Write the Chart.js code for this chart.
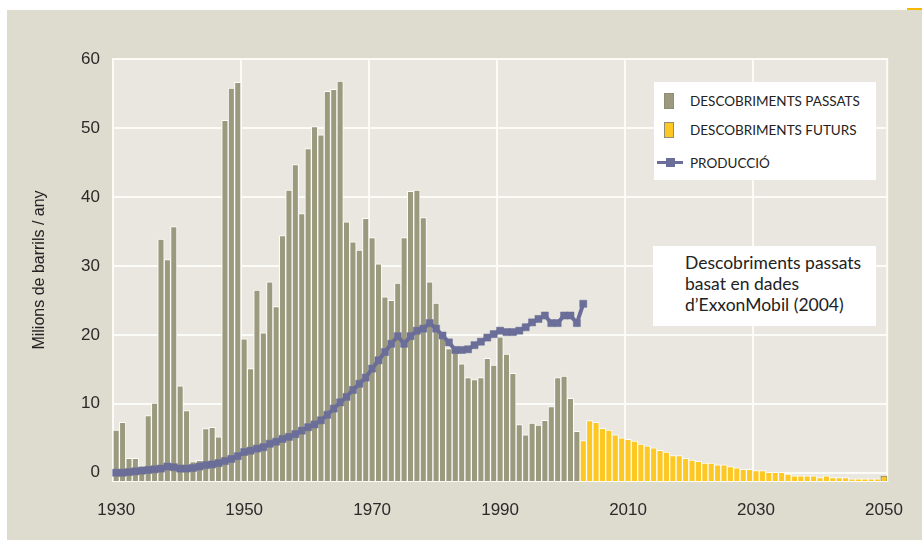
<!DOCTYPE html>
<html>
<head>
<meta charset="utf-8">
<style>
  body { margin: 0; background: #fff; width: 922px; height: 540px; position: relative; overflow: hidden;
         font-family: "Liberation Sans Narrow", Lato, sans-serif; }
  #panel { position: absolute; left: 7px; top: 10px; right: 0; bottom: 0; background: #dedccf; }
  #accent { position: absolute; left: 907px; top: 8px; width: 15px; height: 2px; background: #f7b900; }
  #chart { position: absolute; left: 0; top: 0; }
  #legend { position: absolute; left: 654px; top: 82px; width: 222px; height: 98px; background: #fff; }
  .item { position: absolute; left: 0; height: 20px; width: 222px; }
  .item span.txt { position: absolute; left: 36px; top: 1px; font-size: 13.5px; color: #222; line-height: 18px; white-space: nowrap; }
  .item i { position: absolute; display: block; }
  #note { position: absolute; left: 653px; top: 246px; width: 223px; height: 80px; background: #fff;
          box-sizing: border-box; padding: 6px 0 0 32px; font-size: 17.5px; line-height: 21px; color: #222; }
</style>
</head>
<body>
<div id="panel"></div>
<div id="accent"></div>
<canvas id="chart" width="922" height="540"></canvas>
<div id="legend"></div>
<div id="note">Descobriments passats<br>basat en dades<br>d’ExxonMobil (2004)</div>
<script src="https://cdn.jsdelivr.net/npm/chart.js@4.4.1/dist/chart.umd.min.js"></script>
<script>
// categories: one slot per year
const firstYear = 1930;
const lastYear = 2050;
const years = [];
for (let y = firstYear; y <= lastYear; y++) years.push(y);

const xTickYears = [1930, 1950, 1970, 1990, 2010, 2030, 2050];
const yTicks = [0, 10, 20, 30, 40, 50, 60];

// past discoveries, 1930 - 2002
const pastDiscoveries = [
  6.2, 7.3, 2.1, 2.1, 1.0, 8.3, 10.1, 33.9, 30.9, 35.7,
  12.6, 9.0, 1.6, 1.8, 6.4, 6.6, 5.2, 51.1, 55.8, 56.6,
  19.4, 15.1, 26.5, 20.3, 27.7, 24.1, 34.4, 41.0, 44.7, 37.6,
  47.0, 50.2, 49.0, 55.3, 55.6, 56.8, 36.4, 33.5, 32.3, 36.9,
  34.1, 30.3, 25.5, 25.0, 27.5, 34.1, 40.8, 41.0, 37.0, 27.7,
  24.6, 19.5, 18.0, 17.5, 15.8, 13.8, 13.5, 13.8, 16.6, 15.6,
  19.7, 17.2, 14.4, 7.0, 5.5, 7.2, 6.9, 7.6, 9.6, 13.8,
  14.0, 10.8, 6.0
];
const pastStart = 1930;

// future discoveries, 2003 - 2050
const futureDiscoveries = [
  4.65, 7.55, 7.3, 6.45, 6.2, 5.5, 5.05,
  4.85, 4.6, 4.15, 3.9, 3.6, 3.25, 3.0, 2.5, 2.5, 2.1,
  1.85, 1.65, 1.4, 1.4, 1.15, 1.15, 0.9, 0.7, 0.5, 0.5,
  0.3, 0.3, 0.05, 0.05, 0.05, -0.2, -0.45, -0.45, -0.45, -0.45,
  -0.7, -0.45, -0.7, -0.7, -0.7, -0.9, -0.9, -0.9, -0.9, -0.9,
  -0.5
];
const futureStart = 2003;

// production, 1930 - 2003
const production = [
  0.0, 0.0, 0.1, 0.2, 0.3, 0.4, 0.5, 0.6, 0.9, 0.8,
  0.6, 0.6, 0.7, 0.9, 1.1, 1.2, 1.4, 1.7, 2.0, 2.4,
  3.0, 3.2, 3.5, 3.7, 4.2, 4.5, 4.9, 5.2, 5.6, 6.1,
  6.6, 7.0, 7.6, 8.4, 9.3, 10.2, 11.0, 12.0, 12.9, 13.8,
  15.1, 16.3, 17.5, 18.7, 19.8, 18.7, 19.8, 20.6, 20.9, 21.7,
  20.9, 19.9, 18.9, 17.8, 17.8, 17.9, 18.5, 19.0, 19.6, 20.1,
  20.6, 20.4, 20.4, 20.6, 21.1, 21.8, 22.3, 22.8, 21.7, 21.7,
  22.8, 22.8, 21.7, 24.5
];
const productionStart = 1930;

function alignTo(values, start) {
  return years.map(y => {
    const i = y - start;
    return i >= 0 && i < values.length ? values[i] : null;
  });
}

const yMin = -1.2;
const grey = '#9b9a7e';
const yellow = '#fdc823';
const purple = '#6b6e98';

const plotBg = {
  id: 'plotBg',
  beforeDraw(chart) {
    const { ctx, chartArea: a } = chart;
    ctx.save();
    ctx.fillStyle = '#e9e7df';
    ctx.fillRect(a.left, a.top, a.right - a.left, a.bottom - a.top);
    ctx.strokeStyle = '#fbfbf8';
    ctx.lineWidth = 2;
    ctx.strokeRect(a.left, a.top, a.right - a.left, a.bottom - a.top);
    ctx.restore();
  }
};

const chart = new Chart('chart', {
  data: {
    labels: years,
    datasets: [
      {
        type: 'bar', label: 'DESCOBRIMENTS PASSATS',
        data: alignTo(pastDiscoveries, pastStart),
        backgroundColor: grey, borderColor: '#fdfdfb', borderWidth: 1,
        base: yMin, barPercentage: 1, categoryPercentage: 1, grouped: false, order: 2
      },
      {
        type: 'bar', label: 'DESCOBRIMENTS FUTURS',
        data: alignTo(futureDiscoveries, futureStart),
        backgroundColor: yellow,
        borderColor: ctx => years[ctx.dataIndex] === lastYear ? '#8f8d76' : '#fdfdfb',
        borderWidth: 1,
        base: yMin, barPercentage: 1, categoryPercentage: 1, grouped: false, order: 1
      },
      {
        type: 'line', label: 'PRODUCCIÓ',
        data: alignTo(production, productionStart),
        borderColor: purple, backgroundColor: purple, borderWidth: 4,
        pointStyle: 'rect', pointRadius: 5, pointHoverRadius: 5, pointBorderWidth: 0.5,
        tension: 0, spanGaps: false, clip: false, order: 0
      }
    ]
  },
  options: {
    responsive: false,
    animation: false,
    devicePixelRatio: 1,
    layout: { padding: { left: 0, top: 59, right: 25, bottom: 0 } },
    plugins: { legend: { display: false }, tooltip: { enabled: false } },
    scales: {
      x: {
        type: 'category',
        afterFit: s => { s.height = 59; },
        border: { display: false },
        grid: {
          offset: true, drawTicks: false, lineWidth: 2,
          color: ctx => {
            const y = years[ctx.index];
            return (y && y % 20 === 10 && y > firstYear && y < lastYear) ? '#fbfbf8' : 'rgba(0,0,0,0)';
          }
        },
        ticks: {
          autoSkip: false, maxRotation: 0, padding: 19, color: '#2a2a2a',
          font: { size: 17 },
          callback: (v, i) => xTickYears.includes(years[i]) ? String(years[i]) : ''
        }
      },
      y: {
        min: yMin, max: 60,
        afterFit: s => { s.width = 113; },
        afterBuildTicks: s => { s.ticks = yTicks.map(v => ({ value: v })); },
        border: { display: false },
        grid: { color: '#fbfbf8', lineWidth: 2, drawTicks: false },
        ticks: { padding: 13, color: '#2a2a2a', font: { size: 17 } },
        title: {
          display: true, text: 'Milions de barrils / any', color: '#222',
          font: { size: 16 }, padding: { top: 30, bottom: 0 }
        }
      }
    }
  },
  plugins: [plotBg]
});

// html legend built from the datasets
const legendEl = document.getElementById('legend');
const rowTops = [9, 38, 71];
chart.data.datasets.forEach((ds, i) => {
  const row = document.createElement('div');
  row.className = 'item';
  row.style.top = rowTops[i] + 'px';
  if (ds.type === 'bar') {
    const m = document.createElement('i');
    m.style.cssText = `left:10px;top:2px;width:8px;height:14px;background:${ds.backgroundColor};border:1px solid #8f8d76;`;
    row.appendChild(m);
  } else {
    const l = document.createElement('i');
    l.style.cssText = `left:3px;top:8px;width:26px;height:3px;background:${ds.borderColor};`;
    const m = document.createElement('i');
    m.style.cssText = `left:12px;top:5px;width:9px;height:9px;background:${ds.borderColor};`;
    row.appendChild(l);
    row.appendChild(m);
  }
  const t = document.createElement('span');
  t.className = 'txt';
  t.textContent = ds.label;
  row.appendChild(t);
  legendEl.appendChild(row);
});
</script>
</body>
</html>
